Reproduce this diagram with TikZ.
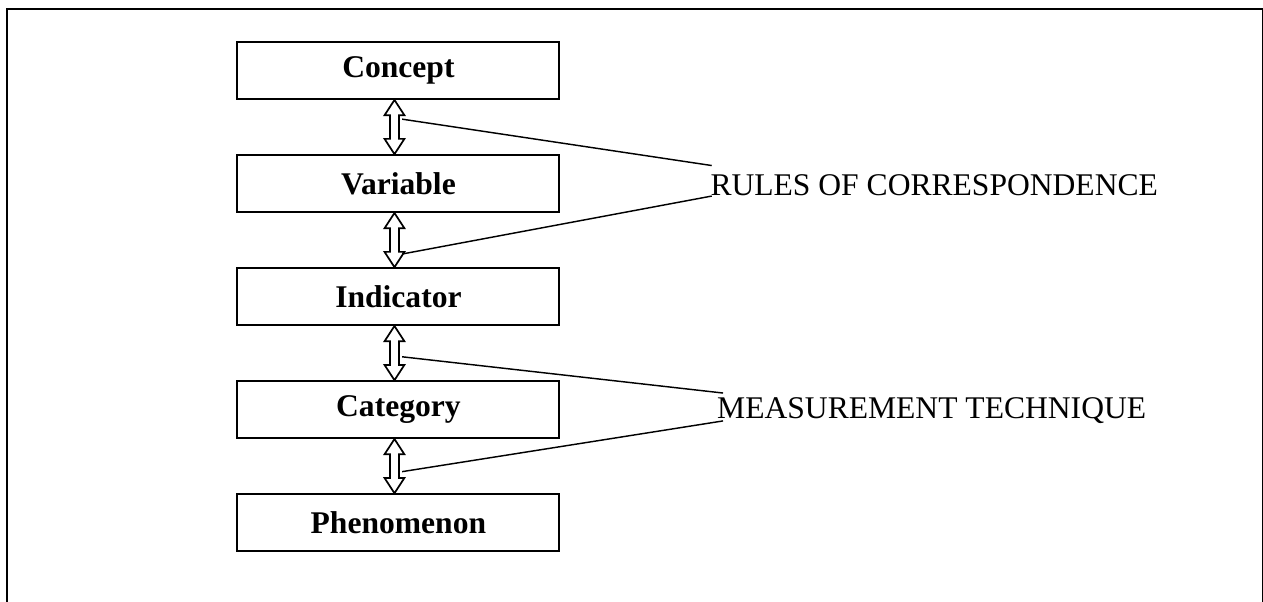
\documentclass[tikz,border=0pt]{standalone}
\usepackage{fontspec}
\setmainfont{Liberation Serif}
\usepackage{tikz}
\usetikzlibrary{positioning, calc, shapes.arrows}
\tikzset{
  level/.style={rectangle, draw, line width=0.75pt, minimum width=122.4pt,
    minimum height=21.9pt, inner sep=0pt,
    font=\fontsize{12pt}{14pt}\selectfont\bfseries},
  linkarrow/.style={double arrow, draw, fill=white, line width=0.65pt,
    rotate=90, minimum height=20.6pt, minimum width=0pt, inner sep=1.4pt,
    double arrow head extend=2.05pt, double arrow tip angle=66},
  rulelabel/.style={anchor=base west, inner sep=0pt,
    font=\fontsize{12pt}{14pt}\selectfont},
  tie/.style={line width=0.55pt},
  frame/.style={line width=0.85pt},
}
\begin{document}
\begin{tikzpicture}[node distance=20.3pt]
  \useasboundingbox (0,0) rectangle (479.94pt,-228.38pt);
  \clip (0,0) rectangle (479.94pt,-228.38pt);
  \draw[frame] (2.66pt,-240pt) |- (480.05pt,-3.42pt) -- (480.05pt,-240pt);

  \node[level] (concept) at (151.4pt,-26.8pt) {Concept};
  \node[level, below=of concept] (variable) {Variable};
  \node[level, below=of variable] (indicator) {Indicator};
  \node[level, below=of indicator] (category) {Category};
  \node[level, below=of category] (phenomenon) {Phenomenon};

  % hollow double arrows between the levels
  \node[linkarrow] (cv) at ($(concept.south)!0.5!(variable.north)+(-1.5pt,0)$) {};
  \node[linkarrow] (vi) at ($(variable.south)!0.5!(indicator.north)+(-1.5pt,0)$) {};
  \node[linkarrow] (ic) at ($(indicator.south)!0.5!(category.north)+(-1.5pt,0)$) {};
  \node[linkarrow] (cp) at ($(category.south)!0.5!(phenomenon.north)+(-1.5pt,0)$) {};

  \node[rulelabel] (rules) at (269.8pt,-74.1pt) {RULES OF CORRESPONDENCE};
  \node[rulelabel] (measure) at (272.35pt,-158.95pt) {MEASUREMENT TECHNIQUE};

  \draw[tie] ([shift={(2.9pt,3pt)}]cv.center) -- ([shift={(0.65pt,11.2pt)}]rules.base west);
  \draw[tie] ([shift={(2.9pt,-5.3pt)}]vi.center) -- ([shift={(0.65pt,-0.4pt)}]rules.base west);
  \draw[tie] ([shift={(2.9pt,-1.4pt)}]ic.center) -- ([shift={(2.4pt,9.6pt)}]measure.base west);
  \draw[tie] ([shift={(2.9pt,-2.1pt)}]cp.center) -- ([shift={(2.4pt,-1pt)}]measure.base west);
\end{tikzpicture}
\end{document}
